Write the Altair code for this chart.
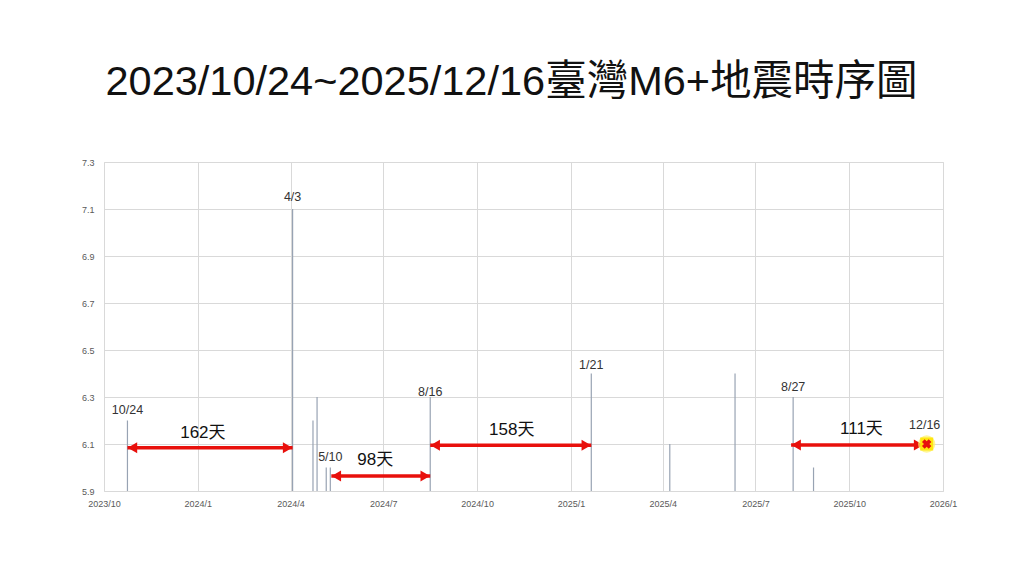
import altair as alt
import pandas as pd

# ---- data ----
eq_dates = ["2023-10-24", "2024-04-03", "2024-04-23", "2024-04-27", "2024-05-06",
            "2024-05-10", "2024-08-16", "2025-01-21", "2025-04-08", "2025-06-11",
            "2025-08-07", "2025-08-27"]
eq_mags = [6.2, 7.1, 6.2, 6.3, 6.0, 6.0, 6.3, 6.4, 6.1, 6.4, 6.3, 6.0]

label_texts = ["10/24", "4/3", "5/10", "8/16", "1/21", "8/27", "12/16"]
label_dates = ["2023-10-24", "2024-04-03", "2024-05-10", "2024-08-16", "2025-01-21", "2025-08-07", "2025-12-14"]
label_mags = [6.245, 7.151, 6.045, 6.321, 6.436, 6.343, 6.181]

arrow_start = ["2023-10-24", "2024-05-11", "2024-08-16", "2025-08-05"]
arrow_end = ["2024-04-03", "2024-08-16", "2025-01-21", "2025-12-13"]
arrow_mag = [6.084, 5.964, 6.095, 6.096]

gap_texts = ["162天", "98天", "158天", "111天"]
gap_dates = ["2024-01-06", "2024-06-23", "2024-11-04", "2025-10-13"]
gap_mags = [6.145, 6.032, 6.160, 6.164]

next_date = ["2025-12-16"]
next_mag = [6.1]

y_ticks = [5.9, 6.1, 6.3, 6.5, 6.7, 6.9, 7.1, 7.3]
x_ticks = [(2023, 10), (2024, 1), (2024, 4), (2024, 7), (2024, 10), (2025, 1),
           (2025, 4), (2025, 7), (2025, 10), (2026, 1)]

title_text = "2023/10/24~2025/12/16臺灣M6+地震時序圖"

# ---- tables ----
eq = pd.DataFrame({"date": eq_dates, "mag": eq_mags, "base": [5.9] * len(eq_dates)})
labels = pd.DataFrame({"date": label_dates, "mag": label_mags, "text": label_texts})
arrows = pd.DataFrame({"start": arrow_start, "end": arrow_end, "mag": arrow_mag})
gaps = pd.DataFrame({"date": gap_dates, "mag": gap_mags, "text": gap_texts})
nxt = pd.DataFrame({"date": next_date, "mag": next_mag})

FONT = "Liberation Sans, Noto Sans CJK TC, sans-serif"
RED = "#e8100c"

xscale = alt.Scale(type="utc",
                   domain=[alt.DateTime(year=2023, month=10, date=1, utc=True),
                           alt.DateTime(year=2026, month=1, date=1, utc=True)])
yscale = alt.Scale(domain=[5.9, 7.3], nice=False, zero=False)

xaxis = alt.Axis(values=[alt.DateTime(year=y, month=m, date=1, utc=True) for y, m in x_ticks],
                 format="%Y/%-m", title=None, labelFont=FONT, labelFontSize=9,
                 labelColor="#595959", grid=True, gridColor="#d9d9d9", domain=False,
                 ticks=False, labelPadding=8, labelFlush=False, labelOverlap=False)
yaxis = alt.Axis(values=y_ticks, format=".1f", title=None, labelFont=FONT, labelFontSize=9,
                 labelColor="#595959", grid=True, gridColor="#d9d9d9", domain=False,
                 ticks=False, labelPadding=10)

bars = alt.Chart(eq).mark_rule(color="#98a3b3", strokeWidth=1.2).encode(
    x=alt.X("date:T", scale=xscale, axis=xaxis),
    y=alt.Y("base:Q", scale=yscale, axis=yaxis),
    y2="mag:Q",
)

lbl = alt.Chart(labels).mark_text(font=FONT, fontSize=12.5, color="#333333", baseline="middle").encode(
    x="date:T", y="mag:Q", text="text:N")

arrow_lines = alt.Chart(arrows).mark_rule(color=RED, strokeWidth=3.5).encode(
    x="start:T", x2="end:T", y="mag:Q")
head_r = alt.Chart(arrows).mark_point(shape="triangle-right", filled=True, color=RED,
                                      opacity=1, size=120).encode(
    x="end:T", y="mag:Q", xOffset=alt.value(-5))
head_l = alt.Chart(arrows).mark_point(shape="triangle-left", filled=True, color=RED,
                                      opacity=1, size=120).encode(
    x="start:T", y="mag:Q", xOffset=alt.value(5))

gap_lbl = alt.Chart(gaps).mark_text(font=FONT, fontSize=17, color="#111111", baseline="middle").encode(
    x="date:T", y="mag:Q", text="text:N")

glow_outer = alt.Chart(nxt).mark_point(shape="circle", filled=True, color="#fff266", opacity=0.7,
                                       size=300).encode(x="date:T", y="mag:Q")
glow = alt.Chart(nxt).mark_point(shape="square", filled=True, color="#ffe600", opacity=0.9,
                                 size=170).encode(x="date:T", y="mag:Q")
cross = alt.Chart(nxt).mark_point(shape="cross", filled=True, color=RED, opacity=1,
                                  size=90, angle=45).encode(x="date:T", y="mag:Q")

chart = alt.layer(bars, lbl, arrow_lines, head_r, head_l, gap_lbl, glow_outer, glow, cross).properties(
    width=839, height=329,
    title=alt.TitleParams(title_text, font=FONT, fontSize=41.5, fontWeight="normal",
                          color="#111111", anchor="middle", dx=-12, offset=55),
    autosize=alt.AutoSizeParams(type="none"),
    padding={"left": 96, "top": 154, "right": 73, "bottom": 72},
).configure_view(stroke=None).configure(background="white")

chart.save("out.html", embed_options={"renderer": "svg", "actions": False})
